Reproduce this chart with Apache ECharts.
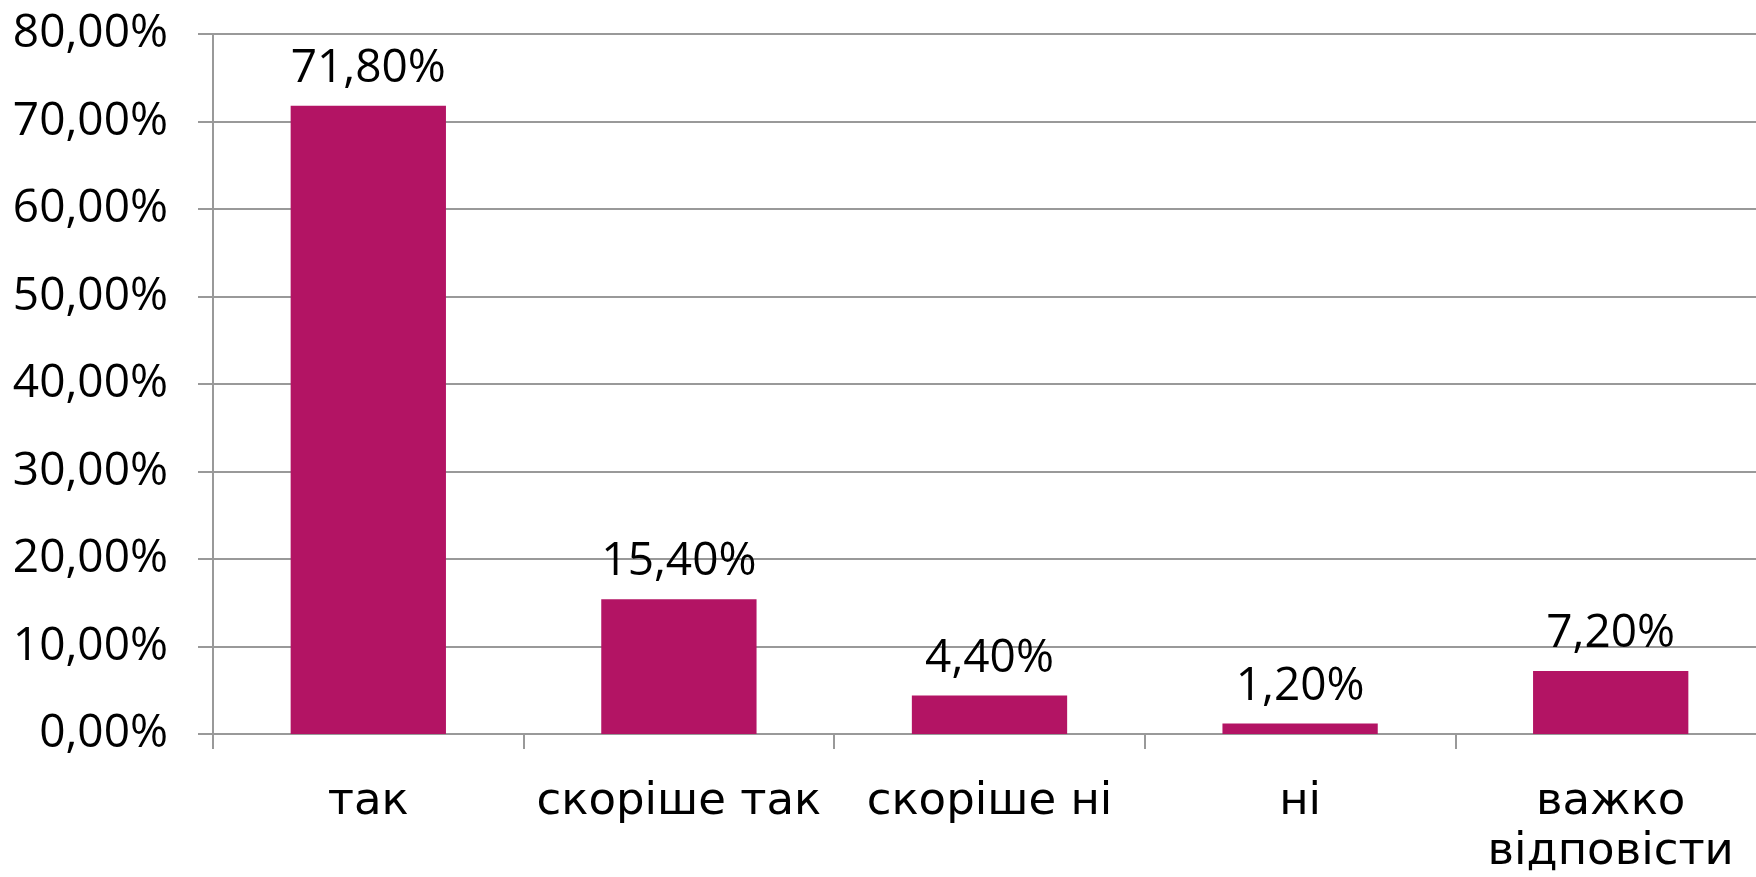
<!DOCTYPE html>
<html>
<head>
<meta charset="utf-8">
<script src="https://cdn.jsdelivr.net/npm/echarts@6/dist/echarts.min.js"></script>
<style>
html,body{margin:0;padding:0;background:#fff;overflow:hidden;}
#chart{width:1756px;height:877px;}
</style>
</head>
<body>
<div id="chart"></div>
<script>
const categories = ['так', 'скоріше так', 'скоріше ні', 'ні', 'важко\nвідповісти'];
const values = [71.8, 15.4, 4.4, 1.2, 7.2];
const yTicks = [0, 10, 20, 30, 40, 50, 60, 70, 80];

const NUM_FONT = '"Open Sans", sans-serif';
const CAT_FONT = '"DejaVu Sans", sans-serif';
const fmt = v => v.toFixed(2).replace('.', ',') + '%';

const chart = echarts.init(document.getElementById('chart'), null, {renderer: 'canvas'});
chart.setOption({
  animation: false,
  backgroundColor: '#ffffff',
  grid: {left: 213, top: 34, bottom: 143, right: -10, containLabel: false, outerBoundsMode: 'none'},
  xAxis: {
    type: 'category',
    data: categories,
    boundaryGap: true,
    axisLine: {show: true, lineStyle: {color: '#999999', width: 2}},
    axisTick: {show: true, length: 15, alignWithLabel: false, lineStyle: {color: '#999999', width: 2}},
    axisLabel: {
      interval: 0,
      margin: 43,
      color: '#000',
      fontFamily: CAT_FONT,
      fontSize: 45,
      lineHeight: 50
    }
  },
  yAxis: {
    type: 'value',
    min: yTicks[0],
    max: yTicks[yTicks.length - 1],
    interval: 10,
    axisLine: {show: true, lineStyle: {color: '#999999', width: 2}},
    axisTick: {show: true, length: 15, lineStyle: {color: '#999999', width: 2}},
    splitLine: {show: true, lineStyle: {color: '#999999', width: 2}},
    axisLabel: {
      margin: 45,
      color: '#000',
      fontFamily: NUM_FONT,
      fontSize: 46,
      formatter: v => fmt(v)
    }
  },
  series: [{
    type: 'bar',
    data: values,
    barWidth: '50%',
    itemStyle: {color: '#B31464'},
    label: {
      show: true,
      position: 'top',
      distance: 14,
      color: '#000',
      fontFamily: NUM_FONT,
      fontSize: 46,
      formatter: p => fmt(p.value)
    }
  }]
});
</script>
</body>
</html>
